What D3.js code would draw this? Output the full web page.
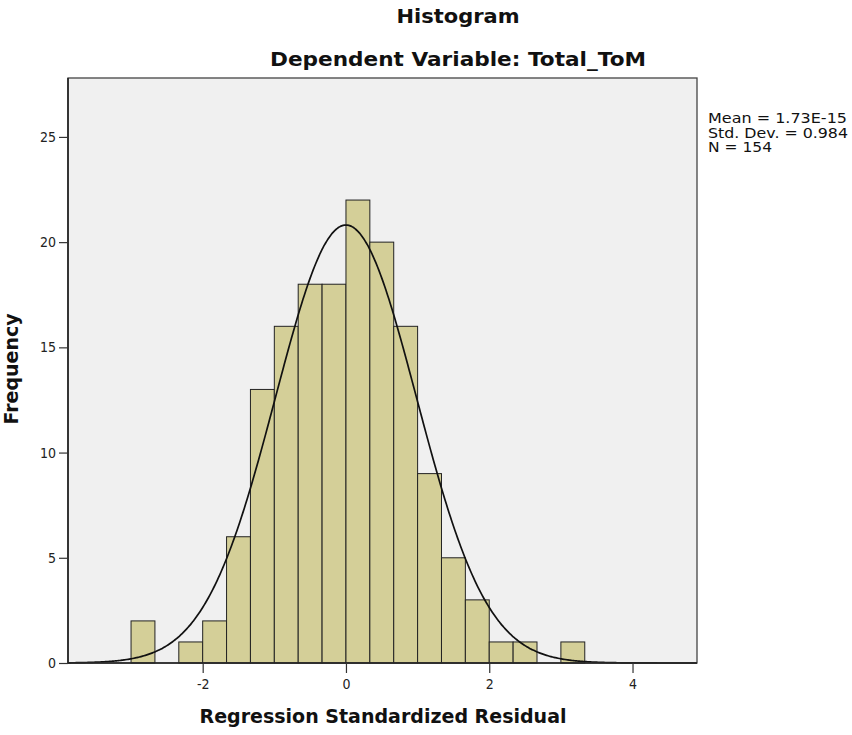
<!DOCTYPE html>
<html><head><meta charset="utf-8">
<script src="https://cdn.jsdelivr.net/npm/d3@7"></script>
<style>body{margin:0;background:#fff}svg{display:block}text{font-family:"DejaVu Sans",sans-serif}</style>
</head><body>
<svg id="c" width="852" height="735"></svg>
<script>
// Data
const binStarts = [-3, -2.6667, -2.3333, -2, -1.6667, -1.3333, -1, -0.6667, -0.3333, 0, 0.3333, 0.6667, 1, 1.3333, 1.6667, 2, 2.3333, 2.6667, 3];
const counts    = [ 2,  0,  1,  2,  6, 13, 16, 18, 18, 22, 20, 16,  9,  5,  3,  1,  1,  0,  1];
const binWidth = 1/3;
const stats = {mean: 1.73e-15, sd: 0.984, n: 154};
const statLabels = ["Mean = 1.73E-15", "Std. Dev. = 0.984", "N = 154"];
const xTicks = [-2, 0, 2, 4];
const yTicks = [0, 5, 10, 15, 20, 25];

const svg = d3.select("#c");
const L = 68, R = 697, T = 78, B = 663;
const x = d3.scaleLinear().domain([-3.88, 4.9]).range([L, R]);
const y = d3.scaleLinear().domain([0, 27.8]).range([B, T]);

svg.append("rect").attr("x", L).attr("y", T).attr("width", R - L).attr("height", B - T)
  .attr("fill", "#f0f0f0");

const bars = binStarts.map((s, i) => ({s, c: counts[i]})).filter(d => d.c > 0);
svg.selectAll("rect.bar").data(bars).enter().append("rect").attr("class", "bar")
  .attr("x", d => x(d.s)).attr("width", d => x(d.s + binWidth) - x(d.s))
  .attr("y", d => y(d.c)).attr("height", d => y(0) - y(d.c))
  .attr("fill", "#d4cf98").attr("stroke", "#222").attr("stroke-width", 1);

// fitted normal curve from stats
const xs = d3.range(-3.88, 4.9001, 0.02);
const pdf = v => stats.n * binWidth / (stats.sd * Math.sqrt(2 * Math.PI)) * Math.exp(-0.5 * ((v - stats.mean) / stats.sd) ** 2);
svg.append("path").datum(xs)
  .attr("d", d3.line().x(v => x(v)).y(v => y(pdf(v))).curve(d3.curveBasis))
  .attr("fill", "none").attr("stroke", "#111").attr("stroke-width", 1.7);

// frame
svg.append("rect").attr("x", L).attr("y", T).attr("width", R - L).attr("height", B - T)
  .attr("fill", "none").attr("stroke", "#444").attr("stroke-width", 1.3);

// axes
const xa = svg.append("g").attr("transform", `translate(0,${B})`)
  .call(d3.axisBottom(x).tickValues(xTicks).tickSize(10).tickPadding(6).tickFormat(d => String(d)));
const ya = svg.append("g").attr("transform", `translate(${L},0)`)
  .call(d3.axisLeft(y).tickValues(yTicks).tickSize(9).tickPadding(3).tickFormat(d => String(d)));
[xa, ya].forEach(g => {
  g.select(".domain").attr("stroke", "#222").attr("stroke-width", 1.6);
  g.selectAll(".tick line").attr("stroke", "#333").attr("stroke-width", 1.2);
  g.selectAll(".tick text").attr("fill", "#222").style("font-size", "14px")
    .style("font-family", '"DejaVu Sans Condensed","DejaVu Sans",sans-serif');
});
xa.select(".domain").attr("d", `M${L},0H${R}`);
ya.select(".domain").attr("d", `M0,${T}V${B}`);

// titles
function boldText(px, py, str, len, size, rot) {
  const t = svg.append("text").attr("text-anchor", "middle")
    .attr("textLength", len).attr("lengthAdjust", "spacingAndGlyphs")
    .style("font-size", size + "px").style("font-weight", "bold").attr("fill", "#111").text(str);
  if (rot) t.attr("transform", `translate(${px},${py}) rotate(-90)`);
  else t.attr("x", px).attr("y", py);
}
boldText(458, 23, "Histogram", 123, 20);
boldText(458, 66, "Dependent Variable: Total_ToM", 376, 20);
boldText(383, 723, "Regression Standardized Residual", 367, 20);
boldText(18, 369, "Frequency", 111, 20, true);

const statLens = [139, 140, 64];
svg.selectAll("text.stat").data(statLabels).enter().append("text").attr("class", "stat")
  .attr("x", 708).attr("y", (d, i) => 123 + i * 14.5)
  .attr("textLength", (d, i) => statLens[i]).attr("lengthAdjust", "spacingAndGlyphs")
  .style("font-size", "14px").attr("fill", "#111").text(d => d);
</script>
</body></html>
